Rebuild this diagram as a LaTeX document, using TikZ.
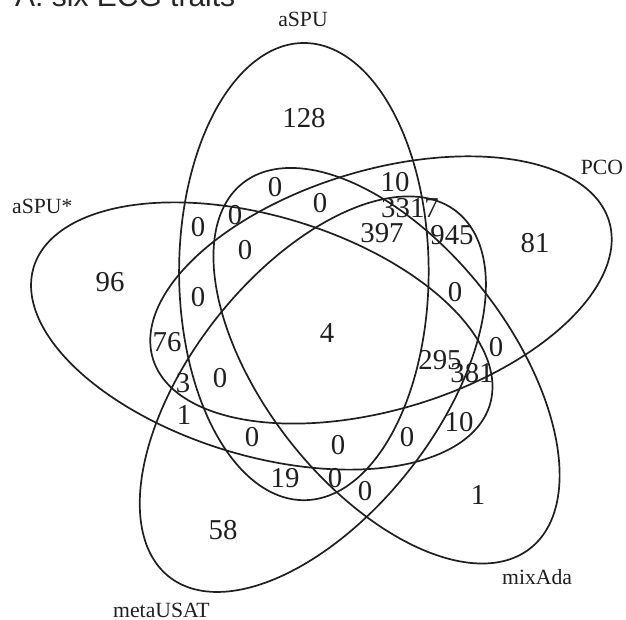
\documentclass[tikz,border=0pt]{standalone}
\usepackage{fontspec}
\setmainfont{Liberation Serif}
\newfontfamily\titlefont{Liberation Sans}
\begin{document}
\begin{tikzpicture}[x=1pt,y=1pt,
  venn/.style={line width=1.7pt, draw=black!88},
  num/.style={font=\fontsize{28.8}{30}\selectfont, inner sep=0pt, text=black!88},
  cat/.style={font=\fontsize{21.7}{23}\selectfont, inner sep=0pt, text=black!88}]
\useasboundingbox (0,0) rectangle (626,620);
% five ellipses: offset angle / axis angle
\foreach \al/\ps in {40/18, 112/90, 184/162, 256/234, 328/306} {
  \draw[venn] plot[smooth cycle, domain=0:355, samples=72, variable=\t]
    ({329.2+67.6*cos(\al)+239.2*cos(\t)*cos(\ps)-124.8*sin(\t)*sin(\ps)},
     {288.5+64.61*sin(\al)+228.62*cos(\t)*sin(\ps)+119.28*sin(\t)*cos(\ps)});
}
% title (cut off at the top)
\node[font=\titlefont\fontsize{30}{32}\selectfont, anchor=base west, inner sep=0pt, text=black!85] (title) at (15,613) {A: six ECG traits};
% category labels
\node[cat, anchor=base] (caspu) at (303,593.3) {aSPU};
\node[cat, anchor=base] (cpco) at (602,445) {PCO};
\node[cat, anchor=base west] (caspus) at (12,406) {aSPU*};
\node[cat, anchor=base west] (cmeta) at (113,2) {metaUSAT};
\node[cat, anchor=base west] (cmix) at (502,35) {mixAda};
% region counts
\node[num] (n128) at (304,502) {128};
\node[num] (n96) at (110,338) {96};
\node[num] (n58) at (223,90) {58};
\node[num] (n1a) at (478,125) {1};
\node[num] (n81) at (535,377) {81};
\node[num] (n4) at (327,287) {4};
\node[num] (z1) at (275,433) {0};
\node[num] (n10a) at (395,438) {10};
\node[num] (z2) at (320,417) {0};
\node[num] (n3317) at (410,412) {3317};
\node[num] (z3) at (235,405) {0};
\node[num] (z4) at (198,393) {0};
\node[num] (n397) at (382,387) {397};
\node[num] (n945) at (452,385) {945};
\node[num] (z5) at (245,370) {0};
\node[num] (z6) at (198,323) {0};
\node[num] (z7) at (455,328) {0};
\node[num] (n76) at (167,278) {76};
\node[num] (n3) at (183,237) {3};
\node[num] (z8) at (220,242) {0};
\node[num] (n1b) at (184,205) {1};
\node[num] (z9) at (252,183) {0};
\node[num] (n19) at (285,142) {19};
\node[num] (n295) at (440,260) {295};
\node[num] (n381) at (472,247) {381};
\node[num] (z10) at (496,273) {0};
\node[num] (n10b) at (459,198) {10};
\node[num] (z11) at (407,183) {0};
\node[num] (z12) at (338,175) {0};
\node[num] (z13) at (335,142) {0};
\node[num] (z14) at (365,129) {0};
\end{tikzpicture}
\end{document}
